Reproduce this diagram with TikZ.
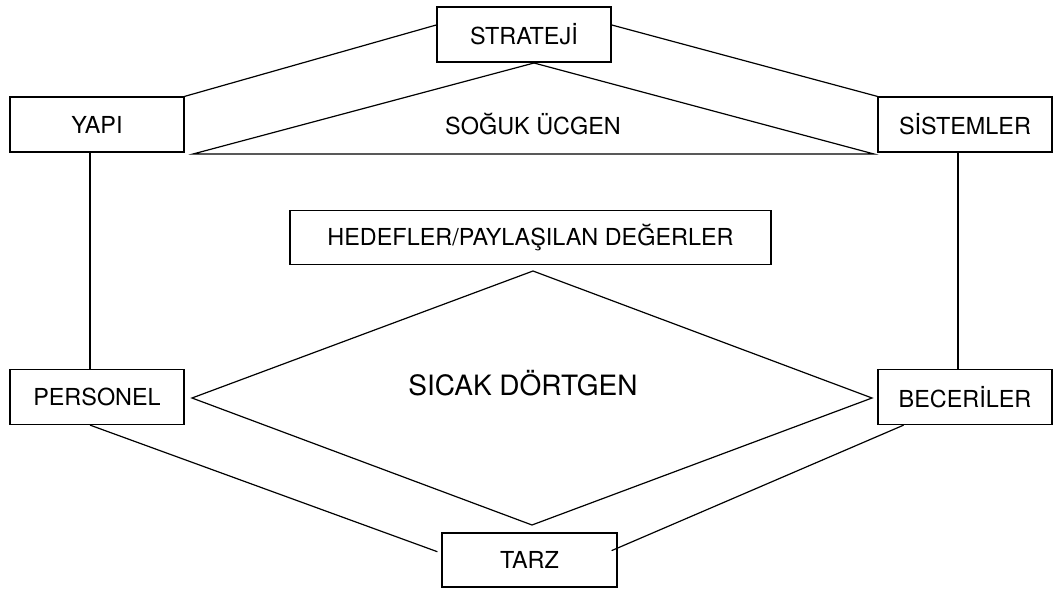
\documentclass[tikz,border=0pt]{standalone}
\usepackage{fontspec}
\setmainfont{TeX Gyre Heros}
\usetikzlibrary{calc}
\begin{document}
\begin{tikzpicture}[x=1pt,y=-1pt,
  every path/.style={line width=1.2pt},
  box/.style={draw, line width=1.2pt, rectangle, minimum width=174pt, minimum height=55pt, inner sep=0pt, font=\fontsize{23.4}{26}\selectfont},
  lbl/.style={inner sep=0pt, font=\fontsize{23.4}{26}\selectfont},
  conn/.style={draw, line width=1.2pt}]
\useasboundingbox (0,0) rectangle (1053,589);
% boxes
\node[box] (strateji) at (524,34.5) {STRATEJİ};
\node[box] (yapi) at (97,124.5) {YAPI};
\node[box] (sistemler) at (965,124.5) {SİSTEMLER};
\node[box, minimum width=481pt, minimum height=54pt] (hedef) at (530.5,237.5) {HEDEFLER/PAYLAŞILAN DEĞERLER};
\node[box] (personel) at (97,397) {PERSONEL};
\node[box] (beceriler) at (965,397) {BECERİLER};
\node[box, minimum width=175pt, minimum height=54pt] (tarz) at (529.5,560) {TARZ};
% triangle
\coordinate (tA) at (534,63);
\coordinate (tL) at (193,154);
\coordinate (tR) at (874,154);
\draw (tA) -- (tR) -- (tL) -- cycle;
\node[lbl] (soguk) at (533,124) {SOĞUK ÜCGEN};
% diamond
\coordinate (dL) at (192,398);
\coordinate (dT) at (533,271);
\coordinate (dR) at (872,398);
\coordinate (dB) at (532,525);
\draw (dL) -- (dT) -- (dR) -- (dB) -- cycle;
\node[lbl, font=\fontsize{28}{32}\selectfont] (sicak) at (523,383) {SICAK DÖRTGEN};
% connectors
\draw[conn] (yapi.north east) -- ($(strateji.north west)!0.33!(strateji.south west)$);
\draw[conn] ($(strateji.north east)!0.33!(strateji.south east)$) -- (sistemler.north west);
\draw[conn] ($(yapi.south west)!0.46!(yapi.south east)$) -- ($(personel.north west)!0.46!(personel.north east)$);
\draw[conn] ($(sistemler.south west)!0.46!(sistemler.south east)$) -- ($(beceriler.north west)!0.46!(beceriler.north east)$);
\draw[conn] ($(personel.south west)!0.46!(personel.south east)$) -- ([xshift=-4pt]$(tarz.north west)!0.35!(tarz.south west)$);
\draw[conn] ($(beceriler.south west)!0.15!(beceriler.south east)$) -- ([xshift=-6pt]$(tarz.north east)!0.33!(tarz.south east)$);
\end{tikzpicture}
\end{document}
